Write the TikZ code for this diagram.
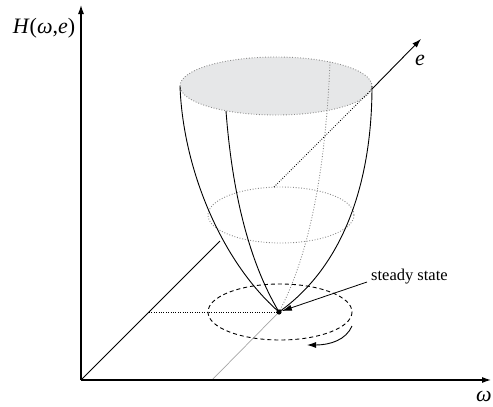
\documentclass[tikz,border=0pt]{standalone}
\usepackage{fontspec}
\setmainfont{Liberation Serif}
\usetikzlibrary{arrows.meta,calc}
\definecolor{capfill}{HTML}{E6E7E8}
\definecolor{dotgray}{HTML}{8A8A8A}
\tikzset{
  axis/.style={line width=1.1pt,-{Latex[length=9pt,width=6pt]}},
  outline/.style={line width=0.9pt},
  hidden/.style={dotgray,line width=0.9pt,dash pattern=on 0.9pt off 1.8pt},
  proj/.style={line width=0.8pt,dash pattern=on 0.8pt off 1.6pt},
  lbl/.style={font=\fontsize{22}{26}\selectfont,inner sep=0pt},
  small/.style={font=\fontsize{16.5}{19}\selectfont,inner sep=0pt,anchor=west},
}
\begin{document}
\begin{tikzpicture}[x=1pt,y=-1pt]
\useasboundingbox (0,0) rectangle (493,407);
% points
\coordinate (O) at (81,380);
\coordinate (Ytop) at (81,5);
\coordinate (Xend) at (491,380);
\coordinate (Eend) at (421,39);
\coordinate (P) at (279,312);
\coordinate (Ein) at (220,241);
\coordinate (Emid) at (274,187);
\coordinate (Etop) at (372,89);
\coordinate (Hproj) at (149,312);
\coordinate (Xproj) at (212,380);
\coordinate (TL) at (180,86);
\coordinate (TR) at (372,86);
\coordinate (T2) at (226,111);
\coordinate (TB) at (330,62);
\coordinate (Rs) at (352,326);
\coordinate (Re) at (307,345);
\coordinate (Ss) at (367,282);
% top cap
\fill[capfill] (276,86) ellipse [x radius=96, y radius=29];
\draw[hidden] (276,86) ellipse [x radius=96, y radius=29];
% middle ring
\draw[hidden] (281,215) ellipse [x radius=73, y radius=28];
% back curve
\draw[hidden] (TB) .. controls (326,160) and (312,250) .. (P);
% e axis
\draw[line width=0.9pt] (O) -- (Ein);
\draw[proj] (Emid) -- (Etop);
\draw[line width=0.9pt,-{Latex[length=9pt,width=6pt]}] (Etop) -- (Eend);
% projection lines
\draw[proj] (Hproj) -- (P);
\draw[gray!70,line width=0.7pt] (P) -- (Xproj);
% outlines
\draw[outline] (TL) .. controls (183,170) and (222,262) .. (P);
\draw[outline] (T2) .. controls (232,190) and (248,260) .. (P);
\draw[outline] (TR) .. controls (372,180) and (345,265) .. (P);
% dashed orbit
\draw[line width=0.9pt,dash pattern=on 4pt off 3pt] (280,312) ellipse [x radius=72, y radius=28];
% rotation arrow
\draw[line width=0.9pt,-{Latex[length=9pt,width=6pt]}] (Rs) .. controls (346,340) and (330,345) .. (Re);
% steady state
\fill (P) circle (2.6);
\node[small] (ss) at (371,277) {steady state};
\draw[line width=0.8pt,-{Latex[length=10pt,width=6pt]}] (Ss) -- ($(P)!3pt!(Ss)$);
% axes
\draw[axis] (O) -- (Ytop);
\draw[axis] (O) -- (Xend);
% labels
\node[lbl] (hl) at (44,28) {\textit{H}(\textit{ω},\textit{e})};
\node[lbl] (el) at (420,60) {\textit{e}};
\node[lbl] (wl) at (484,396) {\textit{ω}};
\end{tikzpicture}
\end{document}
